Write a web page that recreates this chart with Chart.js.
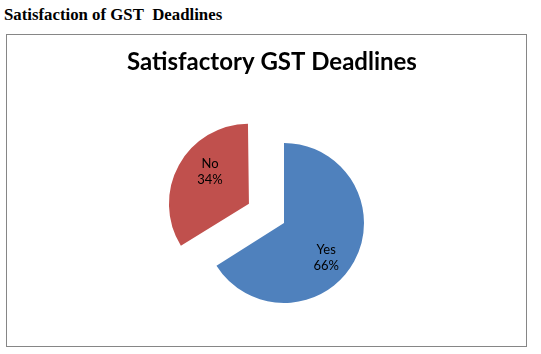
<!DOCTYPE html>
<html>
<head>
<meta charset="utf-8">
<script src="https://cdn.jsdelivr.net/npm/chart.js@4/dist/chart.umd.min.js"></script>
<style>
  body { margin: 0; width: 541px; height: 354px; overflow: hidden; background: #fff; position: relative; }
  #heading { position: absolute; left: 4px; top: 6px; font: bold 16.8px 'Liberation Serif', 'Times New Roman', serif; line-height: 17px; color: #000; white-space: nowrap; }
  #frame { position: absolute; left: 6px; top: 34px; width: 519px; height: 311px; border: 1px solid #868686; }
  #chart { position: absolute; left: 0; top: 0; }
</style>
</head>
<body>
<div id="heading">Satisfaction of GST&nbsp; Deadlines</div>
<div id="frame"></div>
<canvas id="chart" width="541" height="380"></canvas>
<script>
const categories = ['Yes', 'No']
const values = [66, 34]
const colors = ['#4F81BD', '#C0504D']
const explode = [0, 160]

// chart.js grows offset arcs a little, undo that so both slices share one radius
const sameRadius = {
  id: 'sameRadius',
  afterDatasetUpdate(chart, args) {
    args.meta.data.forEach(arc => {
      const off = (arc.options.offset || 0) / 4
      const fix = 1 - Math.sin(Math.min(Math.PI, arc.circumference))
      arc.outerRadius -= off * fix
    })
  },
}

const sliceLabels = {
  id: 'sliceLabels',
  afterDatasetsDraw(chart) {
    const { ctx } = chart
    const meta = chart.getDatasetMeta(0)
    const total = values.reduce((a, b) => a + b, 0)
    ctx.save()
    ctx.font = '13px Lato'
    ctx.fillStyle = '#000'
    ctx.textAlign = 'center'
    ctx.textBaseline = 'middle'
    meta.data.forEach((arc, i) => {
      const { x, y, startAngle, endAngle, outerRadius } = arc
      const mid = (startAngle + endAngle) / 2
      const shift = (arc.options.offset || 0) / 4
      const a = mid + 0.18
      const r = outerRadius * 0.68
      const cx = x + Math.cos(mid) * shift + Math.cos(a) * r
      const cy = y + Math.sin(mid) * shift + Math.sin(a) * r
      const pct = Math.round(values[i] / total * 100) + '%'
      ctx.fillText(categories[i], cx, cy - 8)
      ctx.fillText(pct, cx, cy + 8)
    })
    ctx.restore()
  },
}

new Chart(document.getElementById('chart'), {
  type: 'pie',
  data: {
    labels: categories,
    datasets: [{
      data: values,
      backgroundColor: colors,
      borderWidth: 0,
      offset: explode,
      hoverOffset: 0,
    }],
  },
  options: {
    responsive: false,
    animation: false,
    events: [],
    radius: 80,
    layout: {
      padding: { left: 127, right: 100, top: 48, bottom: 10.8 },
    },
    plugins: {
      legend: { display: false },
      tooltip: { enabled: false },
      title: {
        display: true,
        text: 'Satisfactory GST Deadlines',
        align: 'start',
        color: '#000',
        font: { family: 'Lato', size: 24, weight: 'bold' },
        padding: { top: 0, bottom: 0 },
      },
    },
  },
  plugins: [sameRadius, sliceLabels],
})
</script>
</body>
</html>
